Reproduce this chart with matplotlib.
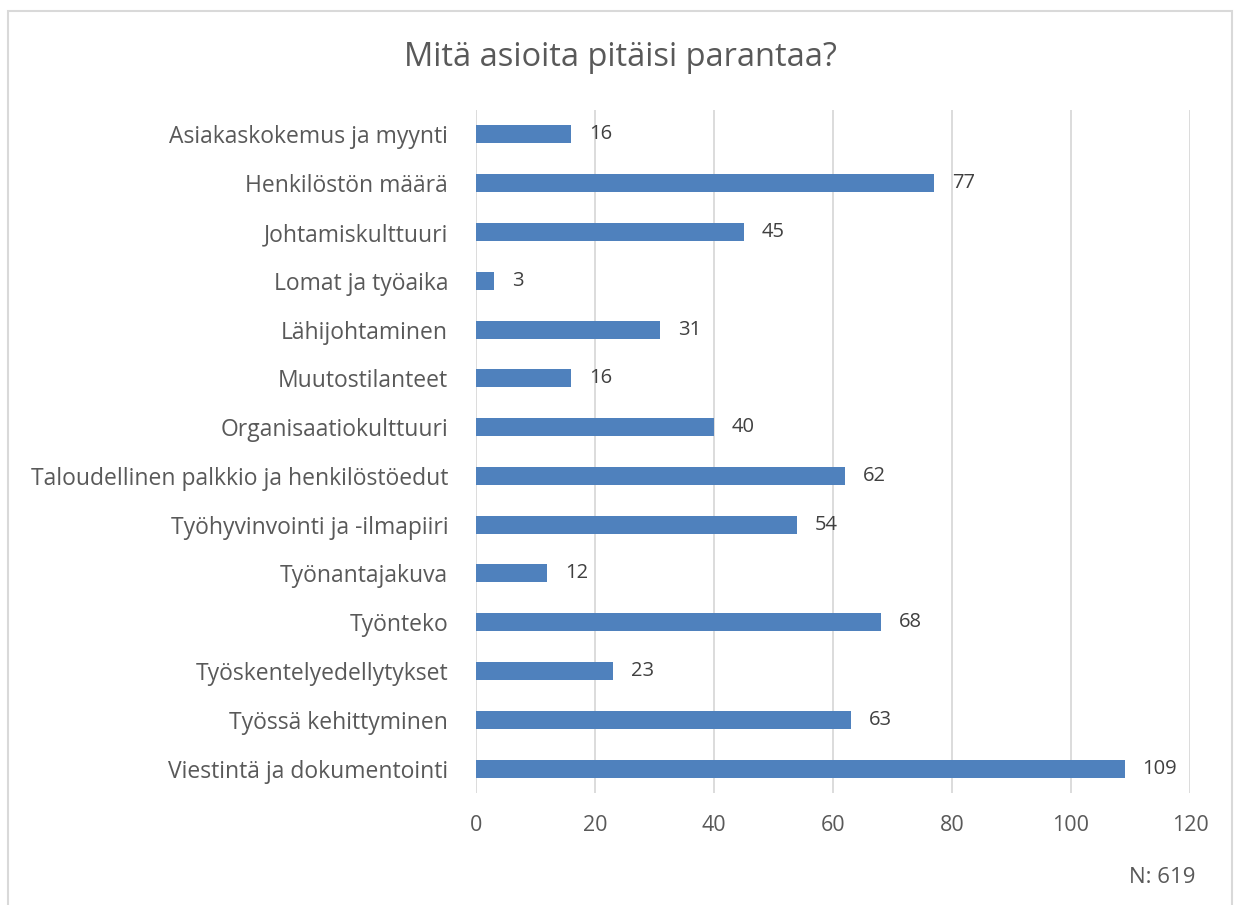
import matplotlib.pyplot as plt
from matplotlib.patches import Rectangle

plt.rcParams['font.family'] = ['Open Sans', 'DejaVu Sans']

categories = ["Asiakaskokemus ja myynti", "Henkilöstön määrä", "Johtamiskulttuuri",
              "Lomat ja työaika", "Lähijohtaminen", "Muutostilanteet",
              "Organisaatiokulttuuri", "Taloudellinen palkkio ja henkilöstöedut",
              "Työhyvinvointi ja -ilmapiiri", "Työnantajakuva", "Työnteko",
              "Työskentelyedellytykset", "Työssä kehittyminen", "Viestintä ja dokumentointi"]
counts = [16, 77, 45, 3, 31, 16, 40, 62, 54, 12, 68, 23, 63, 109]
xticks = [0, 20, 40, 60, 80, 100, 120]

text_col = "#595959"
bar_col = "#4F81BD"

fig = plt.figure(figsize=(12.4, 9.05), dpi=100)
ax = fig.add_axes([476/1240, 112/905, 714/1240, 683/905])

ypos = list(range(len(categories)))
ax.barh(ypos, counts, height=0.37, color=bar_col, zorder=3)
for y, v in zip(ypos, counts):
    ax.text(v + 3, y, str(v), va='center', ha='left', fontsize=14.5, color="#404040")

ax.set_xlim(0, 120)
ax.set_ylim(len(categories) - 0.5, -0.5)
ax.set_yticks(ypos)
ax.set_yticklabels(categories, fontsize=16.5, color=text_col)
ax.set_xticks(xticks)
ax.set_xticklabels([str(t) for t in xticks], fontsize=15.5, color=text_col)
ax.tick_params(axis='both', length=0)
ax.tick_params(axis='y', pad=20)
ax.tick_params(axis='x', pad=16)
ax.xaxis.grid(True, color="#D9D9D9", linewidth=1.3, zorder=0)
for s in ax.spines.values():
    s.set_visible(False)

fig.text(0.5, 1 - 57/905, "Mitä asioita pitäisi parantaa?", ha='center', va='center',
         fontsize=23.5, color=text_col)
fig.text(1162/1240, 1 - 877/905, "N: 619", ha='center', va='center',
         fontsize=16, color=text_col)

# light frame around the whole chart
fig.patches.append(Rectangle((8/1240, -0.01), 1224/1240, 1 - 11/905 + 0.01,
                             transform=fig.transFigure, fill=False,
                             edgecolor="#D9D9D9", linewidth=1.5))

fig.savefig("out.png", dpi=100)
